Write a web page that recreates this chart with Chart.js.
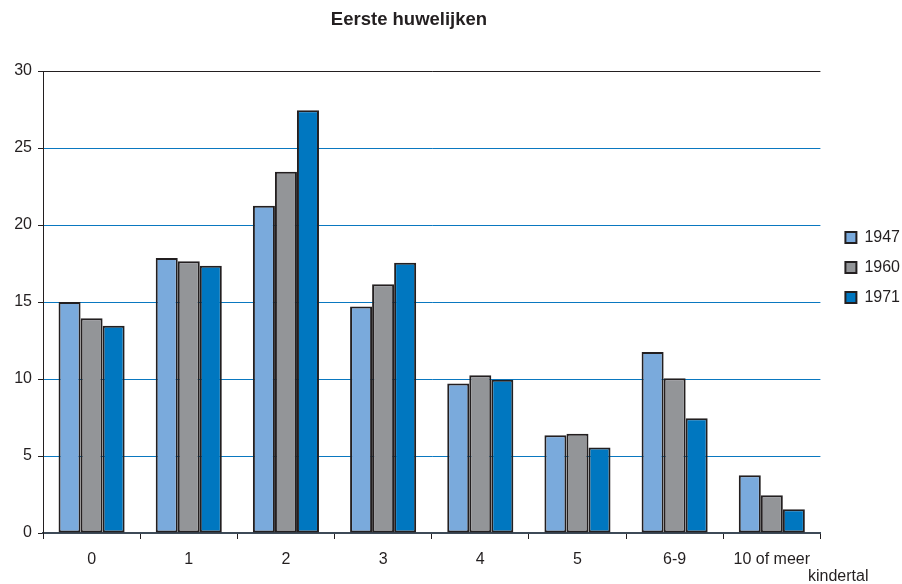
<!DOCTYPE html>
<html>
<head>
<meta charset="utf-8">
<script src="https://cdn.jsdelivr.net/npm/chart.js@4.4.1/dist/chart.umd.min.js"></script>
<style>
  html, body { margin: 0; padding: 0; background: #fff; }
  #wrap { width: 902px; height: 584px; position: relative; }
</style>
</head>
<body>
<div id="wrap"><canvas id="grafiek"></canvas></div>
<script>
// kindertal per huwelijksjaar (percentages)
var categorieen = ['0', '1', '2', '3', '4', '5', '6-9', '10 of meer'];
var jaren = ['1947', '1960', '1971'];
var waarden1947 = [15.0, 17.85, 21.25, 14.7, 9.7, 6.35, 11.75, 3.75];
var waarden1960 = [13.95, 17.65, 23.45, 16.15, 10.25, 6.45, 10.05, 2.45];
var waarden1971 = [13.45, 17.35, 27.45, 17.55, 9.95, 5.55, 7.45, 1.55];
var yMax = 30;
var yStap = 5;

var donker = '#231F20';
var lijnBlauw = '#0a78c0';
var kleuren = ['#7AAADC', '#939598', '#0077C0'];
var lettertype = '"Liberation Sans", Arial, sans-serif';

// titel en as-titel zelf tekenen
var tekstPlugin = {
  id: 'teksten',
  afterLayout: function (chart) {
    // legenda hoger en iets naar rechts, zoals in het origineel
    chart.legend.bottom -= 120;
    chart.legend.left += 11;
    chart.legend.right += 11;
  },
  afterDraw: function (chart) {
    var ctx = chart.ctx;
    ctx.save();
    ctx.fillStyle = donker;
    ctx.textAlign = 'center';
    ctx.textBaseline = 'middle';
    ctx.font = 'bold 18.5px ' + lettertype;
    ctx.fillText('Eerste huwelijken', 409, 20);
    ctx.font = '16px ' + lettertype;
    ctx.textAlign = 'left';
    ctx.fillText('kindertal', 808, 577);
    ctx.restore();
  }
};

var ctx = document.getElementById('grafiek').getContext('2d');
var mijnGrafiek = new Chart(ctx, {
  type: 'bar',
  data: {
    labels: categorieen,
    datasets: [
      { label: jaren[0], data: waarden1947, backgroundColor: kleuren[0] },
      { label: jaren[1], data: waarden1960, backgroundColor: kleuren[1] },
      { label: jaren[2], data: waarden1971, backgroundColor: kleuren[2] }
    ]
  },
  options: {
    responsive: true,
    maintainAspectRatio: false,
    animation: false,
    datasets: {
      bar: {
        borderColor: donker,
        borderWidth: 2,
        borderSkipped: false,
        categoryPercentage: 0.68,
        barPercentage: 1
      }
    },
    layout: {
      padding: { top: 71, right: 3, bottom: 0, left: 0 }
    },
    scales: {
      x: {
        offset: true,
        afterFit: function (scale) { scale.height = 51; },
        grid: {
          offset: true,
          drawOnChartArea: true,
          // alleen de rechterrand van het plotvlak tekenen
          color: function (c) { return c.index === categorieen.length ? donker : 'rgba(0,0,0,0)'; },
          tickColor: donker,
          tickLength: 6,
          lineWidth: 1
        },
        border: { color: '#3d4a57', width: 2 },
        ticks: {
          color: donker,
          padding: 11,
          font: { family: lettertype, size: 16 }
        }
      },
      y: {
        min: 0,
        max: yMax,
        afterFit: function (scale) { scale.width = 43; },
        grid: {
          color: function (c) {
            return c.tick && c.tick.value === yMax ? donker : lijnBlauw;
          },
          tickColor: donker,
          tickLength: 5,
          lineWidth: 1
        },
        border: { color: donker, width: 1 },
        ticks: {
          stepSize: yStap,
          color: donker,
          padding: 6,
          font: { family: lettertype, size: 16 }
        }
      }
    },
    plugins: {
      title: { display: false },
      tooltip: { enabled: false },
      legend: {
        display: true,
        position: 'right',
        align: 'center',
        labels: {
          boxWidth: 11,
          boxHeight: 11,
          padding: 14,
          color: donker,
          font: { family: lettertype, size: 16 }
        }
      }
    }
  },
  plugins: [tekstPlugin]
});
</script>
</body>
</html>
